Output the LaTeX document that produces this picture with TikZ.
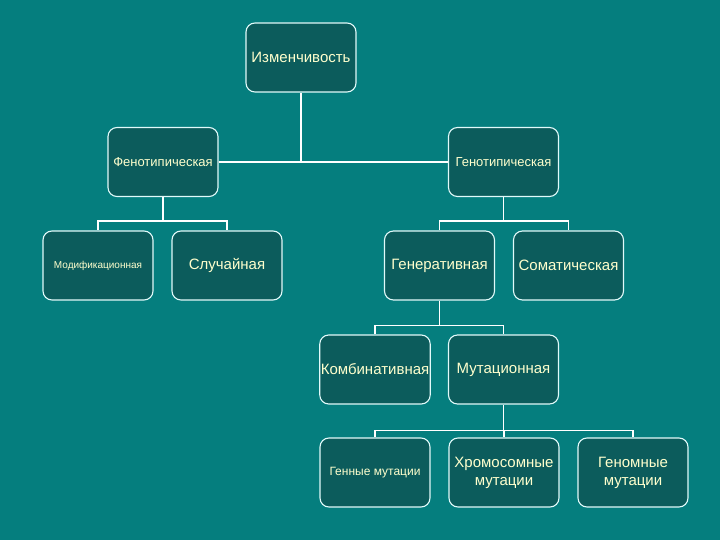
\documentclass[tikz,border=0pt]{standalone}
\usepackage{fontspec}
\setmainfont{Liberation Sans}
\usepackage{tikz}
\usetikzlibrary{calc,positioning}
\definecolor{bgteal}{RGB}{5,126,126}
\definecolor{boxteal}{RGB}{12,92,92}
\definecolor{lineteal}{RGB}{225,250,250}
\definecolor{txtyellow}{RGB}{255,255,205}
\tikzset{
  box/.style={draw=lineteal,line width=1.1pt,rounded corners=9pt,fill=boxteal,
              text=txtyellow,align=center,minimum width=110pt,minimum height=69pt,
              inner sep=1pt,font=\fontsize{15}{18}\selectfont},
  smallbox/.style={box,font=\fontsize{13}{15}\selectfont},
  tinybox/.style={box,font=\fontsize{10}{12}\selectfont},
  link/.style={draw=white,line width=1.8pt}
}
\begin{document}
\begin{tikzpicture}[x=1pt,y=-1pt]
  \fill[bgteal] (0,0) rectangle (720,540);
  % levels
  \node[box] (izm) at (301,57.5) {Изменчивость};
  \node[smallbox] (feno) at (163,162) {Фенотипическая};
  \node[smallbox] (geno) at (503.5,162) {Генотипическая};
  \node[tinybox] (modif) at (98,265.5) {Модификационная};
  \node[box] (sluch) at (227,265.5) {Случайная};
  \node[box] (gener) at (439.5,265.5) {Генеративная};
  \node[box] (somat) at (568.5,265.5) {Соматическая};
  \node[box] (kombi) at (375,369.5) {Комбинативная};
  \node[box] (mutac) at (503.5,369.5) {Мутационная};
  \node[box,font=\fontsize{12}{14}\selectfont] (genn) at (375,472.5) {Генные мутации};
  \node[box] (hrom) at (504,472.5) {Хромосомные\\мутации};
  \node[box] (genom) at (633,472.5) {Геномные\\мутации};
  % connectors
  \draw[link] (feno.east) -- (geno.west);
  \draw[link] (izm.south) -- (izm.south |- feno.east);
  \draw[link] (feno.south) -- ++(0,24) coordinate (fj) -| (modif.north);
  \draw[link] (fj) -| (sluch.north);
  \draw[link] (geno.south) -- ++(0,24) coordinate (gj) -| (gener.north);
  \draw[link] (gj) -| (somat.north);
  \draw[link] (gener.south) -- ++(0,25) coordinate (rj) -| (kombi.north);
  \draw[link] (rj) -| (mutac.north);
  \draw[link] (mutac.south) -- ++(0,26) coordinate (mj) -| (genn.north);
  \draw[link] (mj) -| (hrom.north);
  \draw[link] (mj) -| (genom.north);
\end{tikzpicture}
\end{document}
